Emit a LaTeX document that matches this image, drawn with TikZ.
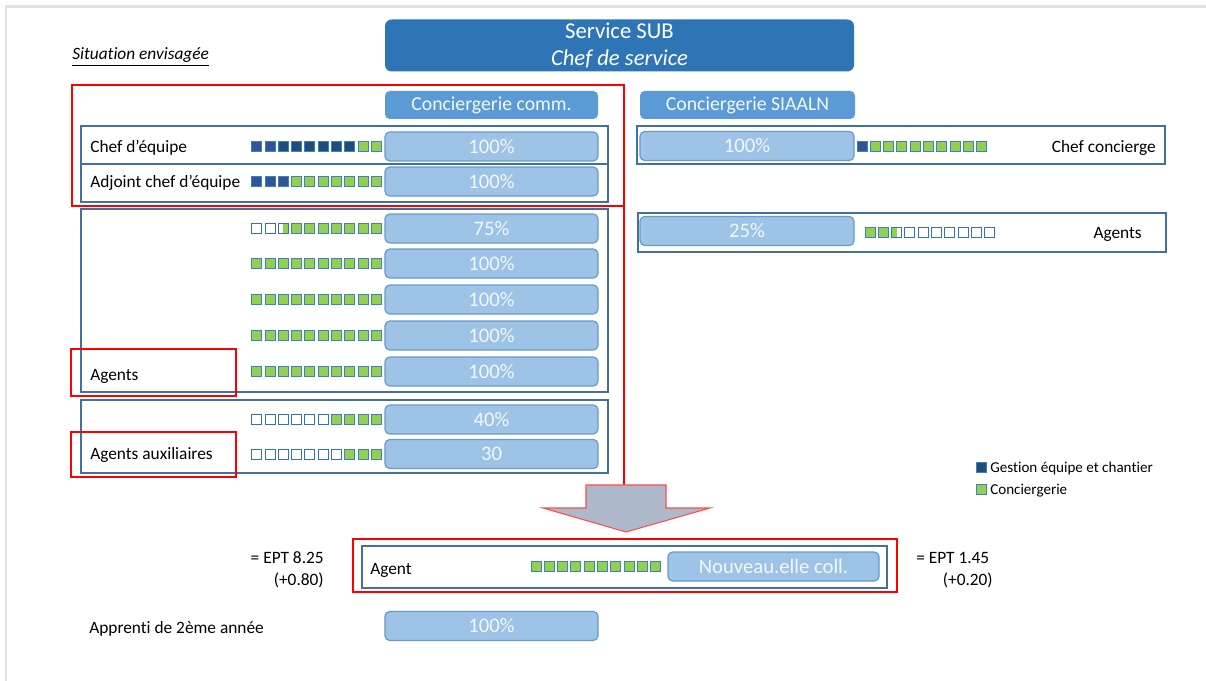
\documentclass[tikz,border=0pt]{standalone}
\usepackage{fontspec}
\setmainfont{Carlito}[Ligatures=NoCommon]
\definecolor{subblue}{HTML}{2E75B6}
\definecolor{hdrblue}{HTML}{5B9BD5}
\definecolor{barfill}{HTML}{9DC3E6}
\definecolor{barline}{HTML}{6A9AC9}
\definecolor{boxline}{HTML}{41719C}
\definecolor{sqgreen}{HTML}{92D050}
\definecolor{sqdark}{HTML}{1F4E79}
\definecolor{sqdarkb}{HTML}{2F5597}
\definecolor{sqbord}{HTML}{3F7FC4}
\definecolor{arrowfill}{HTML}{ADB9CA}
\definecolor{pagegray}{HTML}{E2E2E2}
\definecolor{bartext}{HTML}{F3F7FC}
\newcommand\sqrowx[3]{\foreach \t [count=\i from 0] in {#3}{\path[sq\t] ({#1+\i*13.3-5},{#2-5}) rectangle ++(10,10);}}
\begin{document}
\begin{tikzpicture}[x=0.75pt,y=-0.75pt,
  every node/.style={inner sep=0pt},
  lbl/.style={font=\fontsize{13}{15}\selectfont, anchor=base west},
  bar/.style={fill=barfill, draw=barline, line width=0.9pt, rounded corners=3.5pt,
    minimum width=159.75pt, minimum height=21.75pt, text=bartext, font=\fontsize{15.5}{17}\selectfont},
  hdr/.style={fill=hdrblue, rounded corners=3.5pt, minimum height=21pt, text=bartext,
    font=\fontsize{14.8}{17}\selectfont},
  bluebox/.style={draw=boxline, line width=1.5pt},
  redbox/.style={draw=red, line width=1.6pt},
  sqbase/.style={line width=0.7pt, draw=sqbord},
  sqg/.style={sqbase, fill=sqgreen},
  sqd/.style={sqbase, fill=sqdark},
  sqD/.style={sqbase, fill=sqdarkb},
  sqe/.style={sqbase, draw=subblue, fill=white},
  sqh/.style={sqbase, draw=subblue, fill=white, path picture={\fill[sqgreen] (path picture bounding box.south) rectangle (path picture bounding box.north east);}},
  sqH/.style={sqbase, draw=subblue, fill=white, path picture={\fill[sqgreen] (path picture bounding box.south west) rectangle (path picture bounding box.north);}},
]
\useasboundingbox (0,0) rectangle (1206,681);
% page edge
\fill[pagegray] (5,5) rectangle (1206,8);
\fill[pagegray] (5,5) rectangle (7,681);

% title
\node[lbl, font=\fontsize{13}{15}\itshape] (sit) at (72,60) {\underline{Situation envisagée}};
\node[fill=subblue, rounded corners=5pt, minimum width=351.75pt, minimum height=39pt, text=white,
  align=center, font=\fontsize{17}{20}\selectfont] (sub) at (619.5,45.5) {Service SUB\\\textit{Chef de service}};
\path[use as bounding box] (0,0) rectangle (1206,681);
\node[hdr, minimum width=159.75pt] (hcomm) at (491.5,105) {Conciergerie comm.};
\node[hdr, minimum width=161.25pt] (hsia) at (747.5,105) {Conciergerie SIAALN};

% blue outline boxes
\draw[bluebox] (81,126) rectangle (608,164);
\draw[bluebox] (81,164) rectangle (608,202);
\draw[bluebox] (81,209) rectangle (608,392);
\draw[bluebox] (81,400) rectangle (608,473);
\draw[bluebox] (637,126) rectangle (1165,164);
\draw[bluebox] (638,213) rectangle (1166,252);
\draw[bluebox] (362,546) rectangle (887,588);

% bars left
\node[bar] (b1) at (491.5,146.5) {100\%};
\node[bar] (b2) at (491.5,181.5) {100\%};
\node[bar] (b3) at (491.5,228.5) {75\%};
\node[bar] (b4) at (491.5,263.5) {100\%};
\node[bar] (b5) at (491.5,299.5) {100\%};
\node[bar] (b6) at (491.5,335.5) {100\%};
\node[bar] (b7) at (491.5,371.5) {100\%};
\node[bar] (b8) at (491.5,419.5) {40\%};
\node[bar] (b9) at (491.5,454) {30};
\node[bar] (bapp) at (491.5,626) {100\%};
% bars right
\node[bar, minimum width=160.5pt] (r1) at (747,146) {100\%};
\node[bar, minimum width=160.5pt] (r2) at (747,231) {25\%};
\node[bar, minimum width=158.25pt] (nouv) at (773.5,566.5) {Nouveau.elle coll.};

% squares
\sqrowx{256.7}{146.5}{D,D,d,d,d,d,d,d,g,g}
\sqrowx{256.7}{181.5}{D,D,D,g,g,g,g,g,g,g}
\sqrowx{256.7}{228.5}{e,e,h,g,g,g,g,g,g,g}
\sqrowx{256.7}{263.5}{g,g,g,g,g,g,g,g,g,g}
\sqrowx{256.7}{299.5}{g,g,g,g,g,g,g,g,g,g}
\sqrowx{256.7}{335.5}{g,g,g,g,g,g,g,g,g,g}
\sqrowx{256.7}{371.5}{g,g,g,g,g,g,g,g,g,g}
\sqrowx{256.7}{419.5}{e,e,e,e,e,e,g,g,g,g}
\sqrowx{256.7}{454}{e,e,e,e,e,e,e,g,g,g}
\sqrowx{862}{146}{D,g,g,g,g,g,g,g,g,g}
\sqrowx{870}{232}{g,g,H,e,e,e,e,e,e,e}
\sqrowx{536}{566.5}{g,g,g,g,g,g,g,g,g,g}

% labels
\node[lbl] (lchef) at (90,152) {Chef d’équipe};
\node[lbl] (ladj) at (90,188) {Adjoint chef d’équipe};
\node[lbl] (lag) at (90,380) {Agents};
\node[lbl] (laux) at (90,459) {Agents auxiliaires};
\node[lbl, anchor=base east] (lcc) at (1156,152) {Chef concierge};
\node[lbl, anchor=base east] (lagr) at (1142,238) {Agents};
\node[lbl] (lagent) at (370,574) {Agent};
\node[lbl] (lapp) at (89,633) {Apprenti de 2ème année};
\node[lbl, anchor=base east] (e1) at (324,563) {= EPT 8.25};
\node[lbl, anchor=base east] (e2) at (324,585) {(+0.80)};
\node[lbl] (e3) at (916,563) {= EPT 1.45};
\node[lbl, anchor=base east] (e4) at (993,585) {(+0.20)};

% legend
\path[sqd] (976,462) rectangle (986,472);
\path[sqg] (976,484) rectangle (986,494);
\node[lbl, font=\fontsize{11.3}{13}\selectfont] (leg1) at (990,472) {Gestion équipe et chantier};
\node[lbl, font=\fontsize{11.3}{13}\selectfont] (leg2) at (990,494) {Conciergerie};

% red frames
\draw[redbox] (72,85) rectangle (624,206);
\draw[redbox] (71,349) rectangle (236,396);
\draw[redbox] (71,432) rectangle (236,477);
\draw[redbox] (353,539) rectangle (897,592);
\coordinate (rtop) at (624,206);
\coordinate (rbot) at (624,485);
\draw[redbox] (rtop) -- (rbot);

% arrow
\draw[fill=arrowfill, draw=red!70, line width=0.8pt, line join=miter]
  (586,485) -- (666,485) -- (666,508) -- (710,508) -- (626,532) -- (543,508) -- (586,508) -- cycle;
\end{tikzpicture}
\end{document}
